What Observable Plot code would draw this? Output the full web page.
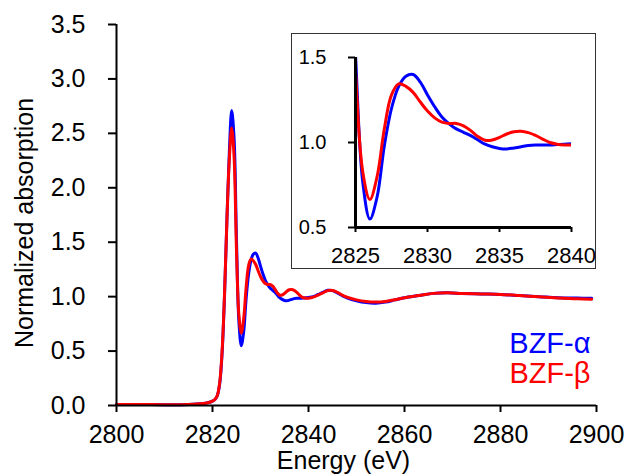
<!DOCTYPE html>
<html>
<head>
<meta charset="utf-8">
<script src="https://cdn.jsdelivr.net/npm/d3@7"></script>
<script src="https://cdn.jsdelivr.net/npm/@observablehq/plot@0.6"></script>
<style>
  html, body { margin: 0; padding: 0; background: #fff; }
  #wrap { position: relative; width: 626px; height: 476px; overflow: hidden; }
  #inset { position: absolute; left: 291px; top: 33px; width: 305px; height: 236px; box-sizing: border-box; border: 1px solid #333; background: #fff; }
  #inset svg, #main svg { display: block; }
</style>
</head>
<body>
<div id="wrap"><div id="main"></div><div id="inset"></div></div>
<script>
// Energy grid (eV)
const energy = [2800, 2805, 2810, 2815, 2818, 2819, 2820, 2820.5, 2821, 2821.5, 2822, 2822.5, 2823, 2823.5, 2824, 2824.5, 2825, 2825.5, 2826, 2826.5, 2827, 2827.5, 2828, 2828.5, 2829, 2829.5, 2830, 2830.5, 2831, 2831.5, 2832, 2832.5, 2833, 2833.5, 2834, 2834.5, 2835, 2835.5, 2836, 2836.5, 2837, 2837.5, 2838, 2838.5, 2839, 2839.5, 2840, 2841, 2842, 2843, 2844, 2845, 2846, 2847, 2848, 2850, 2852, 2854, 2856, 2858, 2860, 2863, 2866, 2869, 2872, 2876, 2880, 2884, 2888, 2892, 2896, 2899];
// BZF-alpha normalized absorption
const alpha = [0.01, 0.01, 0.008, 0.01, 0.018, 0.025, 0.04, 0.055, 0.09, 0.2, 0.48, 1.0, 1.7, 2.32, 2.71, 2.45, 1.52, 0.77, 0.55, 0.68, 0.98, 1.2, 1.33, 1.39, 1.40, 1.355, 1.28, 1.21, 1.15, 1.11, 1.08, 1.06, 1.04, 1.015, 0.99, 0.975, 0.965, 0.962, 0.968, 0.975, 0.982, 0.985, 0.985, 0.986, 0.988, 0.99, 0.993, 1.0, 1.02, 1.04, 1.058, 1.055, 1.035, 1.01, 0.99, 0.962, 0.945, 0.94, 0.95, 0.97, 0.99, 1.01, 1.03, 1.035, 1.03, 1.025, 1.02, 1.01, 1.0, 0.99, 0.987, 0.985];
// BZF-beta normalized absorption
const beta = [0.01, 0.01, 0.008, 0.01, 0.018, 0.025, 0.04, 0.056, 0.092, 0.21, 0.5, 1.02, 1.7, 2.26, 2.55, 2.28, 1.42, 0.83, 0.665, 0.80, 1.08, 1.28, 1.345, 1.33, 1.295, 1.238, 1.185, 1.145, 1.12, 1.112, 1.112, 1.098, 1.07, 1.035, 1.013, 1.015, 1.03, 1.05, 1.063, 1.066, 1.058, 1.042, 1.02, 1.0, 0.99, 0.986, 0.986, 0.995, 1.015, 1.035, 1.055, 1.056, 1.04, 1.015, 0.995, 0.97, 0.955, 0.95, 0.955, 0.972, 0.99, 1.01, 1.03, 1.035, 1.03, 1.025, 1.02, 1.01, 0.998, 0.988, 0.98, 0.977];

const seriesNames = ["BZF-α", "BZF-β"];
const seriesColors = ["#0000ff", "#ff0000"];
const xTicks = [2800, 2820, 2840, 2860, 2880, 2900];
const yTicks = [0, 0.5, 1.0, 1.5, 2.0, 2.5, 3.0, 3.5];
const insetXTicks = [2825, 2830, 2835, 2840];
const insetYTicks = [0.5, 1.0, 1.5];

const rows = [alpha, beta].flatMap((vals, k) => energy.map((e, i) => ({E: e, v: vals[i], name: seriesNames[k]})));
const font = "'Liberation Sans', Arial, sans-serif";
const fmt = d3.format(".1f");

const main = Plot.plot({
  width: 626, height: 476,
  marginLeft: 116, marginRight: 30, marginTop: 24, marginBottom: 71,
  style: {fontFamily: font, fontSize: "25px", color: "#000", background: "#fff", overflow: "visible"},
  x: {domain: [2800, 2900]},
  y: {domain: [0, 3.5]},
  color: {domain: seriesNames, range: seriesColors},
  marks: [
    Plot.line(rows, {x: "E", y: "v", z: "name", stroke: "name", strokeWidth: 3, curve: "catmull-rom"}),
    Plot.ruleX([2800], {stroke: "#000", strokeWidth: 2}),
    Plot.ruleY([0], {stroke: "#000", strokeWidth: 2}),
    Plot.axisX({ticks: xTicks, tickSize: 7, tickPadding: 13, tickFormat: d => String(d), strokeWidth: 2, stroke: "#000", fill: "#000", fontSize: 25, label: null}),
    Plot.axisY({ticks: yTicks, tickSize: 8, tickPadding: 23, tickFormat: fmt, strokeWidth: 2, stroke: "#000", fill: "#000", fontSize: 25, label: null}),
    Plot.text(["Normalized absorption"], {text: d => d, frameAnchor: "left", dx: -92, dy: 8, rotate: -90, lineAnchor: "middle", textAnchor: "middle", fontSize: 25, fill: "#000"}),
    Plot.text(["Energy (eV)"], {text: d => d, frameAnchor: "bottom", dx: -13, dy: 46, lineAnchor: "top", textAnchor: "middle", fontSize: 25, fill: "#000"}),
    Plot.text([seriesNames[0]], {text: d => d, frameAnchor: "bottom-right", dx: -6, dy: -62, lineAnchor: "middle", textAnchor: "end", fontSize: 29, fill: seriesColors[0]}),
    Plot.text([seriesNames[1]], {text: d => d, frameAnchor: "bottom-right", dx: -6, dy: -32, lineAnchor: "middle", textAnchor: "end", fontSize: 29, fill: seriesColors[1]})
  ]
});
document.getElementById("main").append(main);

const insetRows = rows.filter(d => d.E >= 2824 && d.E <= 2842);
const inset = Plot.plot({
  width: 303, height: 234,
  marginLeft: 63, marginRight: 24, marginTop: 23, marginBottom: 41,
  style: {fontFamily: font, fontSize: "20px", color: "#000", background: "#fff", overflow: "visible"},
  x: {domain: [2825, 2840]},
  y: {domain: [0.5, 1.5]},
  color: {domain: seriesNames, range: seriesColors},
  marks: [
    Plot.line(insetRows, {x: "E", y: "v", z: "name", stroke: "name", strokeWidth: 3, curve: "catmull-rom", clip: true}),
    Plot.ruleX([2825], {stroke: "#000", strokeWidth: 3}),
    Plot.ruleY([0.5], {stroke: "#000", strokeWidth: 3}),
    Plot.axisX({ticks: insetXTicks, tickSize: 5, tickPadding: 15, tickFormat: d => String(d), strokeWidth: 2, stroke: "#000", fill: "#000", fontSize: 22, label: null}),
    Plot.axisY({ticks: insetYTicks, tickSize: 7, tickPadding: 22, tickFormat: fmt, strokeWidth: 2, stroke: "#000", fill: "#000", fontSize: 20, label: null})
  ]
});
document.getElementById("inset").append(inset);
</script>
</body>
</html>
